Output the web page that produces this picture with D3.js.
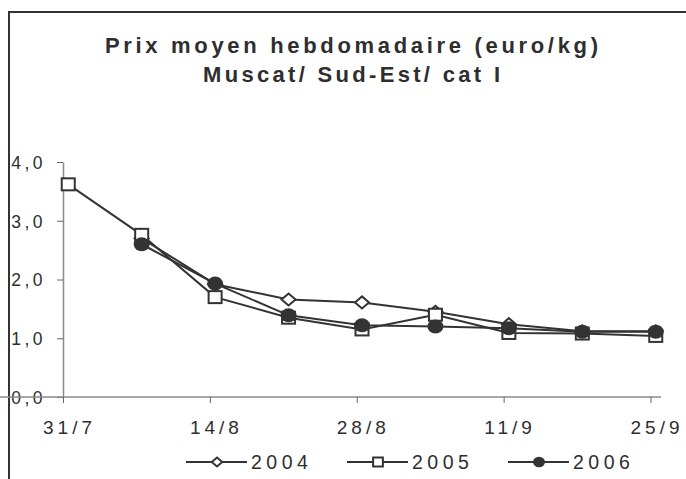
<!DOCTYPE html>
<html>
<head>
<meta charset="utf-8">
<script src="https://cdn.jsdelivr.net/npm/d3@7"></script>
<style>
  body { margin: 0; background: #fff; }
  text { font-family: "Liberation Sans", Arial, sans-serif; fill: #2e2e2e; }
</style>
</head>
<body>
<div id="chart"></div>
<script>
// weekly dates (day/month), 2004..2006 prices in euro/kg
const weeks = ["2006-07-31","2006-08-07","2006-08-14","2006-08-21","2006-08-28","2006-09-04","2006-09-11","2006-09-18","2006-09-25"];
const v2004 = [null, 2.70, 1.92, 1.66, 1.61, 1.45, 1.24, 1.12, 1.12];
const v2005 = [3.62, 2.76, 1.70, 1.35, 1.15, 1.40, 1.09, 1.08, 1.04];
const v2006 = [null, 2.60, 1.93, 1.39, 1.22, 1.20, 1.17, 1.11, 1.11];
const seriesNames = ["2004","2005","2006"];
const xTicks = ["2006-07-31","2006-08-14","2006-08-28","2006-09-11","2006-09-25"];
const xTickLabels = ["31/7","14/8","28/8","11/9","25/9"];
const yTicks = [0,1,2,3,4];
const yTickLabels = ["0,0","1,0","2,0","3,0","4,0"];
const titleLines = ["Prix moyen hebdomadaire (euro/kg)","Muscat/ Sud-Est/ cat I"];

const W = 686, H = 479;
const ink = "#333";
const parse = d3.utcParse("%Y-%m-%d");

const svg = d3.select("#chart").append("svg")
    .attr("width", W).attr("height", H);

// frame (left + top only)
svg.append("path")
    .attr("d", "M9," + H + "V12H" + W)
    .attr("fill","none").attr("stroke", ink).attr("stroke-width", 2);

// title
svg.selectAll(".title").data(titleLines).enter().append("text")
    .attr("class","title")
    .attr("x", (d,i) => i ? 203 : 105)
    .attr("y", (d,i) => i ? 82 : 53)
    .attr("textLength", (d,i) => i ? 297 : 493)
    .attr("lengthAdjust","spacing")
    .attr("font-size", 22).attr("font-weight","bold")
    .text(d => d);

const x = d3.scaleUtc()
    .domain([parse("2006-07-31"), parse("2006-09-26")])
    .range([63, 661]);
const y = d3.scaleLinear().domain([0,4]).range([397, 162]);
const half = 12*3600*1000; // points sit mid-day on a date axis

// y axis
const gy = svg.append("g").attr("transform","translate(63,0)")
    .call(d3.axisLeft(y).tickValues(yTicks).tickSize(6).tickSizeOuter(0)
      .tickFormat((d,i) => yTickLabels[i]));
gy.select(".domain").attr("stroke","#8a8a8a").attr("stroke-width",1.5);
gy.selectAll(".tick line").attr("stroke","#666");
gy.selectAll(".tick text").attr("x",-17).attr("dy","0.36em")
    .attr("font-size",17.5).attr("letter-spacing",3.5).attr("font-family",null).attr("fill",null);

// x axis
const gx = svg.append("g").attr("transform","translate(0,397)")
    .call(d3.axisBottom(x).tickValues(xTicks.map(parse)).tickSize(6).tickSizeOuter(0)
      .tickFormat((d,i) => xTickLabels[i]));
gx.select(".domain").attr("stroke","#8a8a8a").attr("stroke-width",1.5)
    .attr("d","M-6,0H661");
gx.selectAll(".tick text").attr("x",6).attr("y",37).attr("dy",0)
    .attr("font-size",19).attr("letter-spacing",4).attr("font-family",null).attr("fill",null);
gx.selectAll(".tick line").attr("stroke","#666");

// markers
function marker(g, kind, big) {
  const s = big ? 1 : 0.75;
  if (kind === "diamond") {
    g.append("path").attr("d", d3.line()([[-7*s,0],[0,-6*s],[7*s,0],[0,6*s]]) + "Z")
      .attr("fill","#fff").attr("stroke",ink).attr("stroke-width",2);
  } else if (kind === "square") {
    g.append("rect").attr("x",-6.5*s).attr("y",-6*s).attr("width",13*s).attr("height",12*s)
      .attr("fill","#fff").attr("stroke",ink).attr("stroke-width",2);
  } else {
    g.append("ellipse").attr("rx",8*s).attr("ry",7*s).attr("fill",ink);
  }
}

const series = [
  {name: seriesNames[0], values: v2004, kind: "diamond"},
  {name: seriesNames[1], values: v2005, kind: "square"},
  {name: seriesNames[2], values: v2006, kind: "circle"}
];

const line = d3.line()
    .defined(d => d.v != null)
    .x(d => x(new Date(+d.date + half)))
    .y(d => y(d.v));

series.forEach(s => {
  const pts = weeks.map((w,i) => ({date: parse(w), v: s.values[i]}));
  svg.append("path").datum(pts)
      .attr("fill","none").attr("stroke",ink).attr("stroke-width",2)
      .attr("d", line);
  pts.filter(d => d.v != null).forEach(d => {
    const g = svg.append("g")
        .attr("transform","translate(" + x(new Date(+d.date + half)) + "," + y(d.v) + ")");
    marker(g, s.kind, true);
  });
});

// legend
const legX = [186, 347, 508];
series.forEach((s,i) => {
  const lg = svg.append("g").attr("transform","translate(" + legX[i] + ",462)");
  lg.append("line").attr("x1",0).attr("x2",61).attr("stroke",ink).attr("stroke-width",2);
  marker(lg.append("g").attr("transform","translate(31,0)"), s.kind, false);
  lg.append("text").attr("x",65).attr("y",7)
      .attr("font-size",19.5).attr("letter-spacing",4.5).text(s.name);
});
</script>
</body>
</html>
